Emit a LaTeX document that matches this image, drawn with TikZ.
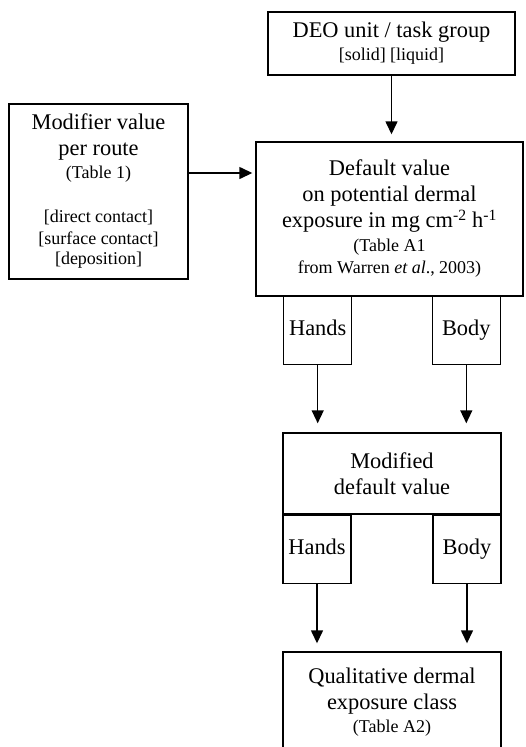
\documentclass[tikz,border=0pt]{standalone}
\usepackage{fontspec}
\setmainfont{Liberation Serif}
\usetikzlibrary{positioning}
\usetikzlibrary{arrows.meta}
\newcommand{\smalltxt}{\fontsize{18}{22}\selectfont}

\begin{document}
\begin{tikzpicture}[x=1pt, y=-1pt,
    box/.style={draw, line width=1.4pt, align=center, inner sep=0pt,
      font=\fontsize{22.4}{26}\selectfont},
    part/.style={box, minimum width=68pt, minimum height=68pt, text height=15pt, text depth=5pt},
    flow/.style={-{Triangle[length=13pt, width=12pt]}, line width=1.4pt}]
  \useasboundingbox (0,0) rectangle (526,747);
  \node (deo) [box, minimum width=247pt, minimum height=63pt] at (391.5,43.5)
    {DEO unit / task group\\[-3pt] {\smalltxt [solid] [liquid]}};
  \node (default) [box, minimum width=267pt, minimum height=154pt] at (389.5,219)
    {Default value\\ on potential dermal\\ exposure in mg cm\textsuperscript{-2} h\textsuperscript{-1}\\[-2pt]
     {\smalltxt (Table A1}\\[-4pt] {\smalltxt from Warren \textit{et al}., 2003)}};
  \node (modifier) [box, minimum width=179pt, minimum height=175pt] at (98.5,191.5)
    {Modifier value\\ per route\\[-3pt] {\smalltxt (Table 1)}\\[18pt]
     {\smalltxt [direct contact]}\\[-4pt] {\smalltxt [surface contact]}\\[-6pt] {\smalltxt [deposition]}};
  \node (hands1) [part, anchor=north west] at (283,296) {Hands};
  \node (body1) [part, anchor=north east] at (501,296) {Body};
  \node (modified) [box, minimum width=218pt, minimum height=81pt] at (392,473.5)
    {Modified\\ default value};
  \node (hands2) [part, anchor=north west] at (modified.south west) {Hands};
  \node (body2) [part, anchor=north east] at (modified.south east) {Body};
  \node (qual) [box, minimum width=218pt, minimum height=100pt] at (392,702)
    {Qualitative dermal\\ exposure class\\[-3pt] {\smalltxt (Table A2)}};

  \draw[flow, shorten >=7pt] (deo.south) -- (deo.south |- default.north);
  \draw[flow, shorten >=3pt] (modifier.east |- 0,173) -- (default.west |- 0,173);
  \draw[flow, shorten >=9pt] (hands1.south) -- (hands1.south |- modified.north);
  \draw[flow, shorten >=9pt] (body1.south) -- (body1.south |- modified.north);
  \draw[flow, shorten >=8pt] (hands2.south) -- (hands2.south |- qual.north);
  \draw[flow, shorten >=8pt] (body2.south) -- (body2.south |- qual.north);
\end{tikzpicture}
\end{document}
